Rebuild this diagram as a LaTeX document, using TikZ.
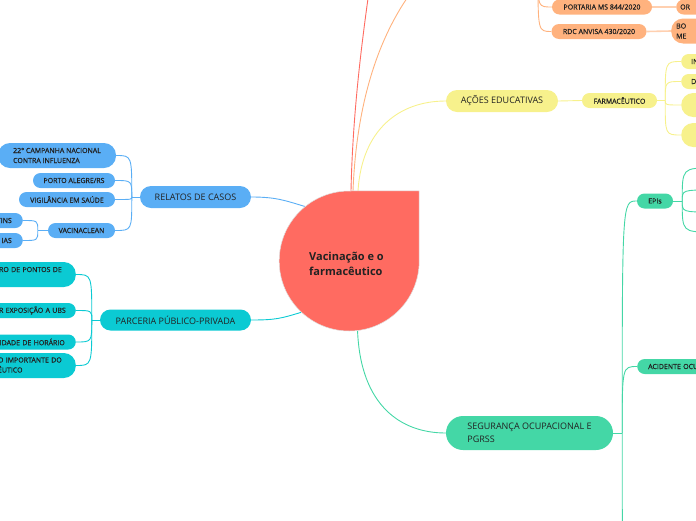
\documentclass[tikz,border=0pt]{standalone}
\usepackage{fontspec}
\setmainfont{Open Sans}
\newfontfamily\smallsemi[FakeBold=0.6]{Open Sans}
\usetikzlibrary{calc}
\definecolor{cred}{HTML}{FF6B61}
\definecolor{corange}{HTML}{FFB27E}
\definecolor{corangel}{HTML}{FFD0B0}
\definecolor{cyellow}{HTML}{F7F18C}
\definecolor{cblue}{HTML}{5AAEF5}
\definecolor{cteal}{HTML}{0BCAD3}
\definecolor{cgreen}{HTML}{44D7A6}
\definecolor{txt}{HTML}{222222}
\pgfdeclarelayer{bg}
\pgfsetlayers{bg,main}
\begin{document}
\begin{tikzpicture}[x=1pt,y=-1pt,
  bx/.style={rectangle, rounded corners=#1, inner sep=0pt, text=txt},
  bigf/.style={font=\fontsize{9}{12.5}\selectfont},
  smf/.style={font=\smallsemi\fontsize{7}{10}\selectfont},
  ln/.style={line width=0.9pt},
  cutl/.style={anchor=east, inner xsep=#1, text width=120pt, align=right},
  cutr/.style={anchor=west, inner xsep=#1, text width=80pt, align=left},
]
\useasboundingbox (0,0) rectangle (696,520);
\clip (0,0) rectangle (696,520);

% ---------- central node
\node[circle, minimum size=140pt, inner sep=0pt] (c) at (349,261) {};
\fill[cred, draw=black!12, line width=0.5pt] (c.east) arc[start angle=0, end angle=-270, radius=70pt] -- (c.north -| c.east) -- cycle;
\node[font=\bfseries\fontsize{11}{15}\selectfont, text=txt, align=left, anchor=west, inner sep=0pt] (ct) at (309,263.5) {Vacinação e o\\farmacêutico};

% ---------- blue branch
\node[bx=11pt, fill=cblue, bigf, minimum width=111pt, minimum height=22pt] (rel) at (195.5,197) {RELATOS DE CASOS};
\node[bx=12pt, fill=cblue, smf, minimum width=118pt, minimum height=25pt, align=left] (camp) at (57,155.5) {22° CAMPANHA NACIONAL\\CONTRA INFLUENZA};
\node[bx=7.5pt, fill=cblue, smf, minimum width=82pt, minimum height=15pt] (poa) at (74,180.5) {PORTO ALEGRE/RS};
\node[bx=7.5pt, fill=cblue, smf, minimum width=96pt, minimum height=15pt] (vig) at (67,199.5) {VIGILÂNCIA EM SAÚDE};
\node[bx=7.5pt, fill=cblue, smf, minimum width=67pt, minimum height=15pt] (vac) at (81.5,230.5) {VACINACLEAN};
\node[bx=7.5pt, fill=cblue, smf, minimum height=15pt, cutl=11pt] (tins) at (23,220.5) {TINS};
\node[bx=7.5pt, fill=cblue, smf, minimum height=15pt, cutl=11pt] (ias) at (23,240.5) {IAS};

% ---------- teal branch
\node[bx=10.5pt, fill=cteal, bigf, minimum width=151pt, minimum height=21pt] (par) at (175.5,320) {PARCERIA PÚBLICO-PRIVADA};
\node[bx=12pt, fill=cteal, smf, minimum height=25pt, cutl=14pt] (p1) at (76,274.5) {RO DE PONTOS DE\\\mbox{}};
\node[bx=7.5pt, fill=cteal, smf, minimum height=15pt, cutl=10pt] (p2) at (76,310.5) {R EXPOSIÇÃO A UBS};
\node[bx=7.5pt, fill=cteal, smf, minimum height=15pt, cutl=11pt] (p3) at (76,342) {IDADE DE HORÁRIO};
\node[bx=12pt, fill=cteal, smf, minimum height=25pt, cutl=14pt] (p4) at (76,365.5) {\begin{tabular}{@{}l@{}}O IMPORTANTE DO\\ÊUTICO\end{tabular}};

% ---------- orange (top right)
\node[bx=7.5pt, fill=corange, smf, minimum width=100pt, minimum height=15pt] (por) at (602,7) {PORTARIA MS 844/2020};
\node[bx=7.5pt, fill=corange, smf, minimum width=95pt, minimum height=15pt] (rdc) at (599,31.5) {RDC ANVISA 430/2020};
\node[bx=7.5pt, fill=corange, smf, minimum height=15pt, cutr=4pt] (ori) at (676,7) {OR};
\node[bx=12pt, fill=corange, smf, minimum height=25pt, cutr=5pt] (bom) at (671,31) {BO\\ME};

% ---------- yellow
\node[bx=11pt, fill=cyellow, bigf, minimum width=112pt, minimum height=22pt] (aco) at (502,101) {AÇÕES EDUCATIVAS};
\node[bx=7.5pt, fill=cyellow, smf, minimum width=75pt, minimum height=15pt] (farm) at (619.5,100.5) {FARMACÊUTICO};
\node[bx=7.5pt, fill=cyellow, smf, minimum height=15pt, cutr=10pt] (y1) at (681,61.5) {IN};
\node[bx=7.5pt, fill=cyellow, smf, minimum height=15pt, cutr=10pt] (y2) at (681,81.5) {D};
\node[bx=12pt, fill=cyellow, smf, minimum height=24pt, cutr=10pt] (y3) at (681,105) {};
\node[bx=12pt, fill=cyellow, smf, minimum height=24pt, cutr=10pt] (y4) at (681,135) {};

% ---------- green
\node[bx=17pt, fill=cgreen, bigf, minimum width=167pt, minimum height=34pt, align=left] (seg) at (529.5,433) {SEGURANÇA OCUPACIONAL E\\PGRSS};
\node[bx=7.5pt, fill=cgreen, smf, minimum width=36pt, minimum height=15pt] (epi) at (655,201) {EPIs};
\node[bx=7.5pt, fill=cgreen, smf, minimum height=15pt, cutr=11pt] (aci) at (637,366.5) {ACIDENTE OCU};

% ---------- free ends
\coordinate (redp) at (372,-30);
\coordinate (legp) at (425,-25);
\coordinate (ot) at (538,-25);
\coordinate (e1) at (712,168);
\coordinate (e2) at (712,190);
\coordinate (e3) at (712,212);
\coordinate (e4) at (712,232);
\coordinate (gdown) at (637,600);

\begin{pgfonlayer}{bg}
% center connectors
\draw[ln, cred] ($(c.north)+(2,0)$) .. controls (353,100) and (365,20) .. (redp);
\draw[ln, corange] ($(c.north)+(4,0)$) .. controls (357,90) and (385,20) .. (legp);
\draw[ln, cyellow] ($(c.north)+(9,0)$) .. controls +(4,-62) and +(-46,0) .. (aco.west);
\draw[ln, cblue] (rel.east) .. controls +(25,0) and +(-20,-6) .. (c.129);
\draw[ln, cteal] (par.east) .. controls +(25,0) and +(-20,6) .. (c.227);
\draw[ln, cgreen] (c.277) .. controls +(3,75) and +(-45,0) .. (seg.west);

% blue children
\coordinate (rt) at ($(rel.west)+(-8,0)$);
\draw[ln, cblue] (rel.west) -- (rt);
\foreach \n in {camp,poa,vig,vac}
  \draw[ln, cblue] (rt) .. controls (rt |- \n.east) .. (\n.east);
\coordinate (vt) at ($(vac.west)+(-10,0)$);
\draw[ln, cblue] (vac.west) -- (vt);
\foreach \n in {tins,ias}
  \draw[ln, cblue] (vt) .. controls (vt |- \n.east) .. (\n.east);

% teal children
\coordinate (pt) at ($(par.west)+(-8,0)$);
\draw[ln, cteal] (par.west) -- (pt);
\foreach \n in {p1,p2,p3,p4}
  \draw[ln, cteal] (pt) .. controls (pt |- \n.east) .. (\n.east);

% orange
\draw[ln, corange] (legp) -- (ot);
\foreach \n in {por,rdc}
  \draw[ln, corange] (ot) .. controls (ot |- \n.west) .. (\n.west);
\draw[line width=1.6pt, corangel] (por.east) -- (ori.west);
\draw[line width=1.6pt, corangel] (rdc.east) -- (bom.west);

% yellow
\draw[ln, cyellow] (aco.east) -- (farm.west);
\coordinate (ft) at ($(farm.east)+(8,0)$);
\draw[ln, cyellow] (farm.east) -- (ft);
\foreach \n in {y1,y2,y3,y4}
  \draw[ln, cyellow] (ft) .. controls (ft |- \n.west) .. (\n.west);

% green
\coordinate (gt) at ($(seg.east)+(9,0)$);
\draw[ln, cgreen] (seg.east) -- (gt);
\foreach \n in {epi,aci}
  \draw[ln, cgreen] (gt) .. controls (gt |- \n.west) .. (\n.west);
\draw[ln, cgreen] (gt) .. controls (gt |- gdown) .. (gdown);
\coordinate (et) at ($(epi.east)+(9,0)$);
\draw[ln, cgreen] (epi.east) -- (et);
\foreach \n in {e1,e2,e3,e4}
  \draw[ln, cgreen] (et) .. controls (et |- \n) .. (\n);
\end{pgfonlayer}
\end{tikzpicture}
\end{document}
